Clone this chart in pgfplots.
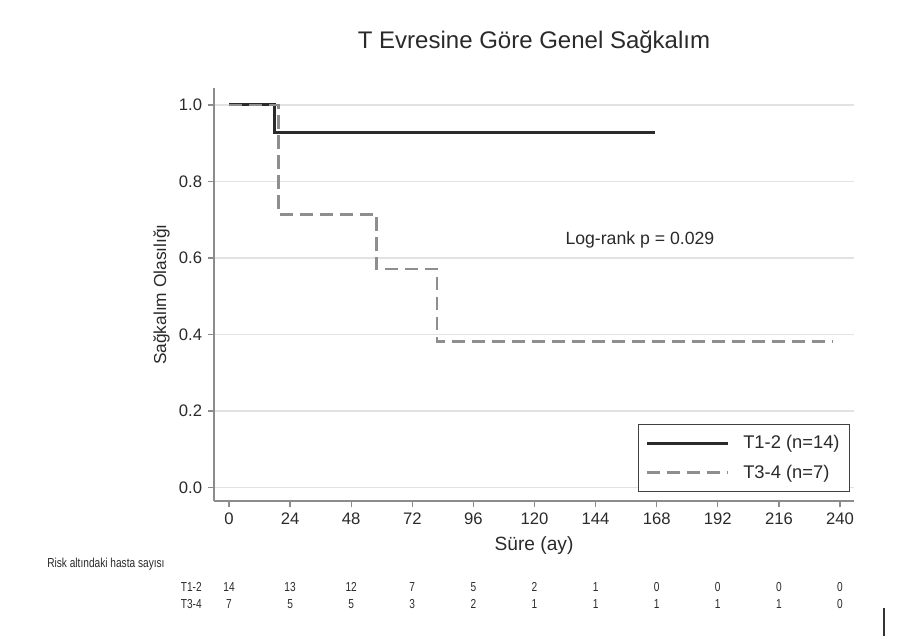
\documentclass[border=0pt]{standalone}
\usepackage{pgfplots}
\pgfplotsset{compat=1.18}
\usepackage{fontspec}
\setmainfont{Liberation Sans}
\newfontfamily\narrowfont[FakeStretch=0.78]{Liberation Sans}
\definecolor{axgray}{HTML}{8C8C8C}
\definecolor{gridgray}{HTML}{E2E2E2}
\definecolor{darkline}{HTML}{2B2B2B}
\definecolor{dashgray}{HTML}{8E8E8E}
\definecolor{txt}{HTML}{2A2A2A}
\pgfplotstableread{
x y n
0 -0.272 14
24 -0.272 13
48 -0.272 12
72 -0.272 7
96 -0.272 5
120 -0.272 2
144 -0.272 1
168 -0.272 0
192 -0.272 0
216 -0.272 0
240 -0.272 0
}\riskA
\pgfplotstableread{
x y n
0 -0.316 7
24 -0.316 5
48 -0.316 5
72 -0.316 3
96 -0.316 2
120 -0.316 1
144 -0.316 1
168 -0.316 1
192 -0.316 1
216 -0.316 1
240 -0.316 0
}\riskB
\begin{document}
\begin{tikzpicture}
\fill[white] (0,0) rectangle (545.4pt,-384pt);
\begin{axis}[
  at={(128.4pt,-300.6pt)}, anchor=south west,
  scale only axis, width=384pt, height=247.8pt,
  xmin=-5.9, xmax=245.5, ymin=-0.035, ymax=1.044,
  clip=false,
  axis lines*=left,
  axis line style={axgray, line width=0.9pt},
  tick align=outside,
  major tick length=3.6pt,
  tick style={axgray, line width=0.8pt},
  xtick={0,24,...,240},
  ytick={0,0.2,0.4,0.6,0.8,1.0},
  yticklabel style={/pgf/number format/.cd, fixed, fixed zerofill, precision=1},
  /pgf/number format/assume math mode=true,
  ticklabel style={font=\fontsize{10}{11}\selectfont, text=txt},
  ymajorgrids,
  major grid style={gridgray, line width=0.8pt},
  xlabel={Süre (ay)},
  xlabel style={at={(axis description cs:0.5,-0.107)}, anchor=center, font=\fontsize{11.5}{13}\selectfont, text=txt},
  ylabel={Sağkalım Olasılığı},
  ylabel style={at={(axis description cs:-0.082,0.5)}, anchor=center, rotate=0, font=\fontsize{10.4}{12}\selectfont, text=txt},
  legend style={at={(axis description cs:0.994,0.022)}, anchor=south east,
    draw=black!75, line width=0.7pt, fill=white, font=\fontsize{11}{12}\selectfont, text=txt,
    inner xsep=4pt, inner ysep=4.5pt, row sep=4pt},
  legend cell align=left,
  legend image code/.code={\draw[#1] (0pt,0pt) -- (49pt,0pt); \path (55pt,0pt);},
]
\addplot[const plot, darkline, line width=1.8pt] coordinates {
  (0,1) (18,0.9286) (167.5,0.9286)
};
\addlegendentry{T1-2 (n=14)}
\addplot[const plot, dashgray, line width=1.6pt, dash pattern=on 8pt off 4pt] coordinates {
  (0,1) (19.5,0.7143) (58,0.5714) (81.7,0.381) (237,0.381)
};
\addlegendentry{T3-4 (n=7)}
\addplot[draw=none, mark=none, forget plot, nodes near coords, point meta=explicit symbolic,
  every node near coord/.style={anchor=base, inner sep=0pt, outer sep=0pt, yshift=0pt, font=\narrowfont\fontsize{7.8}{8}\selectfont, text=txt}]
  table[x=x, y=y, meta=n] {\riskA};
\addplot[draw=none, mark=none, forget plot, nodes near coords, point meta=explicit symbolic,
  every node near coord/.style={anchor=base, inner sep=0pt, outer sep=0pt, yshift=0pt, font=\narrowfont\fontsize{7.8}{8}\selectfont, text=txt}]
  table[x=x, y=y, meta=n] {\riskB};
\node[anchor=base east, inner sep=0pt, font=\narrowfont\fontsize{7.8}{8}\selectfont, text=txt] at (axis cs:-10.6,-0.272) {T1-2};
\node[anchor=base east, inner sep=0pt, font=\narrowfont\fontsize{7.8}{8}\selectfont, text=txt] at (axis cs:-10.6,-0.316) {T3-4};
\node[anchor=base west, inner sep=0pt, font=\narrowfont\fontsize{7.8}{8}\selectfont, text=txt] at (axis cs:-71.5,-0.208) {Risk altındaki hasta sayısı};
\node[anchor=center, font=\fontsize{10.6}{12}\selectfont, text=txt] at (axis cs:161.4,0.647) {Log-rank p = 0.029};
\node[anchor=center, inner sep=0pt, font=\fontsize{14.4}{16}\selectfont, text=txt] at (axis description cs:0.5,1.111) {T Evresine Göre Genel Sağkalım};
\end{axis}
\draw[black!80, line width=0.7pt] (530.4pt,-364.8pt) -- (530.4pt,-381.6pt);
\end{tikzpicture}
\end{document}
